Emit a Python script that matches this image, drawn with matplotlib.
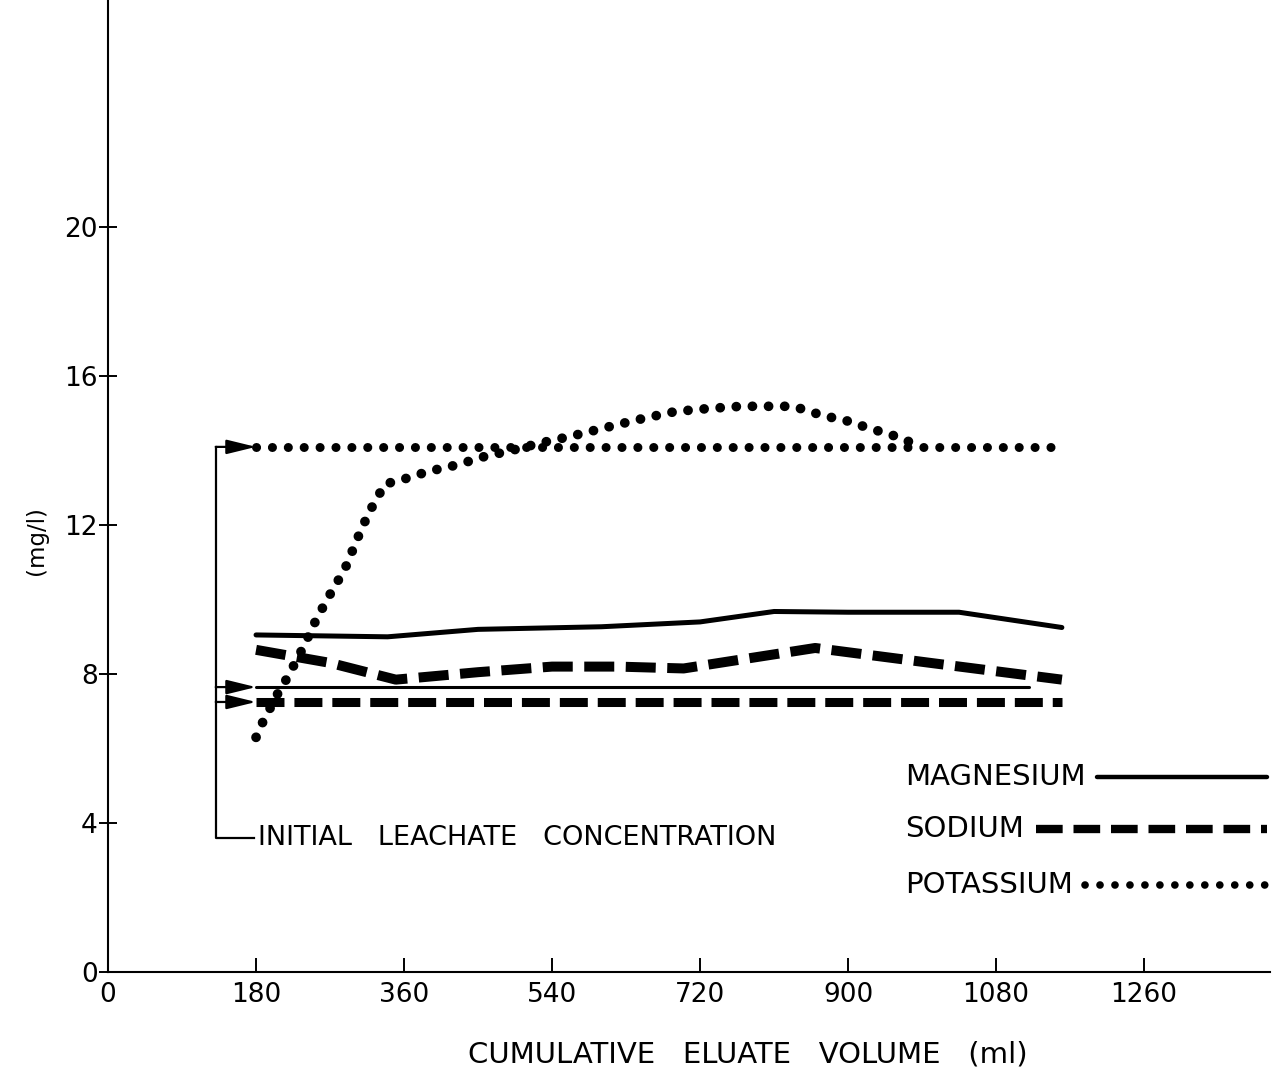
import numpy as np
import matplotlib
matplotlib.use("Agg")
import matplotlib.pyplot as plt

# cumulative eluate volume (ml) / concentration (mg/l)
mg_ml = [180, 340, 450, 600, 720, 810, 900, 1035, 1160]
mg_val = [9.05, 9.0, 9.2, 9.27, 9.4, 9.68, 9.66, 9.66, 9.25]

na_ml = [180, 270, 350, 450, 540, 620, 700, 860, 1000, 1160]
na_val = [8.65, 8.3, 7.85, 8.05, 8.2, 8.2, 8.15, 8.7, 8.3, 7.85]

k_ml = [180, 188, 207, 218, 237, 254, 264, 274, 285, 294, 300, 309, 316, 327,
        336, 355, 376, 395, 416, 437, 450, 490, 525, 562, 611, 650, 690, 730,
        770, 811, 833, 854, 872, 893, 912, 930, 951, 967, 985]
k_val = [6.3, 6.7, 7.5, 7.9, 8.7, 9.5, 9.9, 10.3, 10.7, 11.1, 11.5, 11.9, 12.3,
         12.7, 13.1, 13.2, 13.35, 13.47, 13.57, 13.7, 13.8, 14.0, 14.2, 14.38,
         14.65, 14.86, 15.05, 15.13, 15.19, 15.19, 15.19, 15.05, 14.92, 14.84,
         14.7, 14.57, 14.44, 14.3, 14.15]

# initial leachate concentrations (horizontal reference lines)
init_names = ["MAGNESIUM", "SODIUM", "POTASSIUM"]
init_val = [7.65, 7.25, 14.1]
init_start = [180, 180, 180]
init_end = [1120, 1160, 1160]

bracket_x = 131
note_y = 3.6
note_text = "INITIAL   LEACHATE   CONCENTRATION"

x_ticks = [0, 180, 360, 540, 720, 900, 1080, 1260]
y_ticks = [0, 4, 8, 12, 16, 20]

plt.rcParams["font.family"] = ["DejaVu Sans"]

fig = plt.figure(figsize=(12.86, 10.74), dpi=100)
ax = fig.add_axes([0.084, 0.095, 0.9035, 0.905])

solid = dict(color="black", linestyle="-", solid_capstyle="round")
styles = [
    dict(lw=3.6, **solid),
    dict(color="black", lw=7.2, linestyle=(0, (3.0, 1.15)), dash_capstyle="butt"),
    dict(color="black", lw=7.0, linestyle=(0, (0.01, 1.65)), dash_capstyle="round"),
]
init_styles = [
    dict(lw=2.2, **solid),
    dict(color="black", lw=6.5, linestyle=(0, (3.1, 1.1)), dash_capstyle="butt"),
    dict(color="black", lw=6.5, linestyle=(0, (0.01, 1.75)), dash_capstyle="round"),
]
legend_styles = [
    dict(lw=3.2, **solid),
    dict(color="black", lw=6.0, linestyle=(0, (3.2, 1.3)), dash_capstyle="butt"),
    dict(color="black", lw=5.5, linestyle=(0, (0.01, 1.95)), dash_capstyle="round"),
]

# measured curves
for xs, ys, st in zip([mg_ml, na_ml, k_ml], [mg_val, na_val, k_val], styles):
    ax.plot(xs, ys, **st)

# initial concentration lines
for v, x0, x1, st in zip(init_val, init_start, init_end, init_styles):
    ax.plot([x0, x1], [v, v], **st)

# bracket + arrows pointing at the initial lines
ax.plot([bracket_x, bracket_x, 178], [max(init_val), note_y, note_y],
        color="black", lw=1.6)
for v, x0 in zip(init_val, init_start):
    ax.annotate("", xy=(x0, v), xytext=(bracket_x, v),
                arrowprops=dict(arrowstyle="-|>,head_length=0.9,head_width=0.22",
                                mutation_scale=20, color="black", lw=1.6,
                                shrinkA=0, shrinkB=0))
ax.text(182, note_y, note_text, fontsize=19.5, va="center", ha="left")

ax.set_xlim(0, 1413)
ax.set_ylim(0, 26.1)
ax.set_xticks(x_ticks)
ax.set_yticks(y_ticks)
ax.tick_params(direction="in", length=10, width=1.4, labelsize=19, pad=7)
ax.tick_params(axis="y", direction="inout", length=13, pad=1)
for side in ["top", "right"]:
    ax.spines[side].set_visible(False)
for side in ["left", "bottom"]:
    ax.spines[side].set_linewidth(1.5)

ax.set_xlabel("CUMULATIVE   ELUATE   VOLUME   (ml)", fontsize=21)
ax.xaxis.set_label_coords(0.551, -0.07)
ax.set_ylabel("(mg/l)", fontsize=16.5)
ax.yaxis.set_label_coords(-0.052, 0.444)

# key: label on the left, line sample running on to the right edge
key_x = 0.686
key_y = [0.2006, 0.147, 0.0895]
key_end = 0.9974
fig.canvas.draw()
inv = ax.transAxes.inverted()
for name, y, st in zip(init_names, key_y, legend_styles):
    t = ax.text(key_x, y, name, fontsize=21, ha="left", va="center",
                transform=ax.transAxes)
    bb = t.get_window_extent(fig.canvas.get_renderer())
    x_start = inv.transform((bb.x1, 0))[0] + 0.01
    ax.plot([x_start, key_end], [y, y], transform=ax.transAxes,
            clip_on=False, **st)

fig.savefig("out.png", dpi=100)
